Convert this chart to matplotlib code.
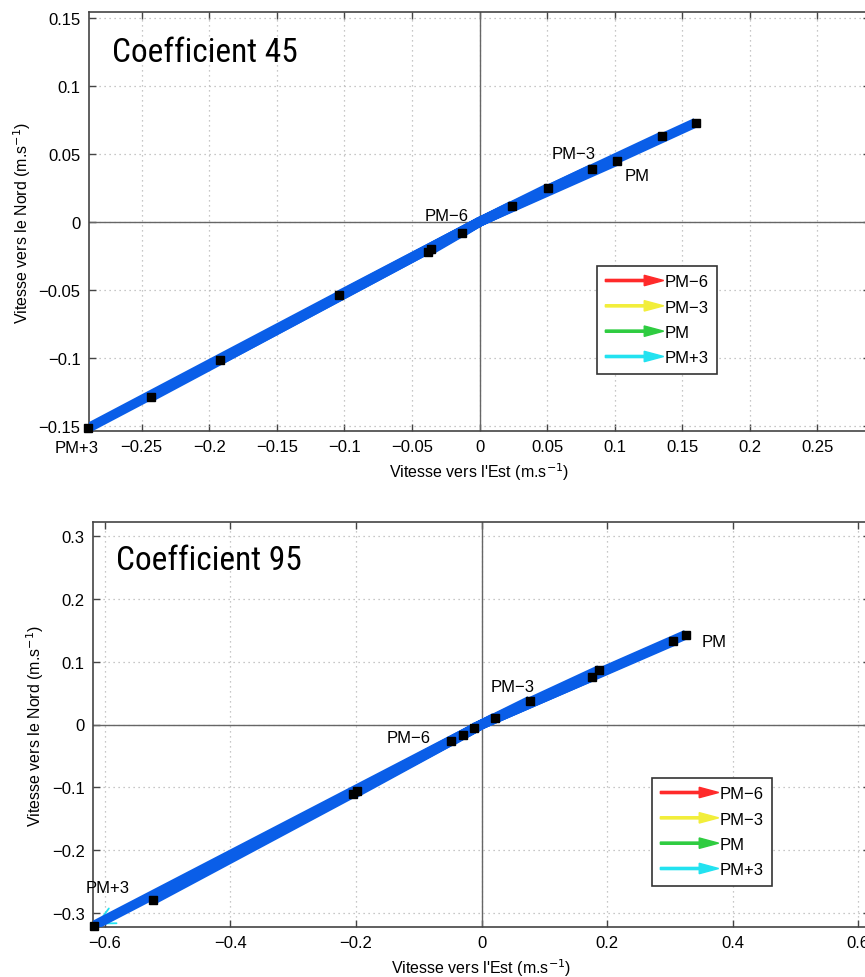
import matplotlib
matplotlib.use("Agg")
import matplotlib.pyplot as plt
import matplotlib.patches as mpatches
from matplotlib import font_manager
from matplotlib.legend_handler import HandlerPatch
import numpy as np

plt.rcParams['font.family'] = ['Liberation Sans', 'DejaVu Sans']

# ---------------- data ----------------
# Coefficient 45 : velocity (East, North) in m/s
u45 = [-0.290, -0.243, -0.192, -0.104, -0.038, -0.036, -0.013, 0.024, 0.051, 0.083, 0.102, 0.135, 0.160]
v45 = [-0.152, -0.129, -0.102, -0.054, -0.022, -0.020, -0.008, 0.012, 0.025, 0.039, 0.045, 0.063, 0.073]

# Coefficient 95
u95 = [-0.618, -0.523, -0.204, -0.199, -0.048, -0.030, -0.012, 0.021, 0.077, 0.176, 0.188, 0.305, 0.326]
v95 = [-0.320, -0.279, -0.111, -0.106, -0.027, -0.017, -0.005, 0.011, 0.038, 0.076, 0.087, 0.132, 0.143]

titles = ["Coefficient 45", "Coefficient 95"]
phase_labels = ["PM\u22126", "PM\u22123", "PM", "PM+3"]
phase_colors = ["#ff2a2a", "#f2ee3a", "#2ecc40", "#22e2f0"]

# annotation positions (data coordinates)
lab45_x = [-0.024, 0.070, 0.117, -0.298]
lab45_y = [0.0045, 0.050, 0.034, -0.166]
lab95_x = [-0.116, 0.050, 0.371, -0.596]
lab95_y = [-0.021, 0.060, 0.132, -0.259]

xticks45 = [-0.25, -0.2, -0.15, -0.1, -0.05, 0, 0.05, 0.1, 0.15, 0.2, 0.25]
yticks45 = [-0.15, -0.1, -0.05, 0, 0.05, 0.1, 0.15]
xticks95 = [-0.6, -0.4, -0.2, 0, 0.2, 0.4, 0.6]
yticks95 = [-0.3, -0.2, -0.1, 0, 0.1, 0.2, 0.3]

BLUE = "#0a5ee8"

# look for a condensed font for the panel titles
title_kw = dict(family=["Liberation Sans", "DejaVu Sans"], fontsize=22)
cands = [f for f in font_manager.fontManager.ttflist
         if ("Condensed" in f.name or "Narrow" in f.name
             or f.stretch in ("condensed", "semi-condensed", "extra-condensed"))
         and f.weight in (400, "normal", "regular")
         and f.style == "normal"]
if cands:
    def score(f):
        n = f.name + " " + str(f.fname)
        if "Liberation" in n:
            return 0
        if "Roboto" in n:
            return 1
        if "Open" in n:
            return 2
        return 3
    cands.sort(key=score)
    title_kw = dict(fname_prop=font_manager.FontProperties(fname=cands[0].fname, size=24))

fig = plt.figure(figsize=(8.65, 9.78), dpi=100)
ax1 = fig.add_axes([89/865, (978-432)/978, 781/865, 419/978])
ax2 = fig.add_axes([93/865, (978-928)/978, 777/865, 405/978])


def arrow_handle(legend, orig_handle, xdescent, ydescent, width, height, fontsize):
    return mpatches.FancyArrow(-xdescent, height/2 - ydescent, width, 0,
                               width=1.6, length_includes_head=True,
                               head_width=7.5, head_length=14)


def fmt(v):
    s = ("%g" % v)
    return s.replace("-", "\u2212")


def draw(ax, u, v, title, xticks, yticks, xlim, ylim, lx, ly, leg_anchor):
    ax.set_xlim(*xlim)
    ax.set_ylim(*ylim)
    ax.grid(True, color="#b5b5b5", linestyle=(0, (1, 3)), linewidth=0.9)
    ax.set_axisbelow(True)
    ax.axhline(0, color="#666666", lw=1.0, zorder=1)
    ax.axvline(0, color="#666666", lw=1.0, zorder=1)

    # PM+3 arrow (cyan), mostly hidden beneath the blue band
    ax.annotate("", xy=(u[0], v[0]), xytext=(0, 0),
                arrowprops=dict(arrowstyle="->,head_length=1.2,head_width=0.6",
                                color=phase_colors[3], lw=1.3), zorder=2)
    # velocity vectors from origin
    for x, y in zip(u, v):
        ax.plot([0, x], [0, y], color=BLUE, lw=7, solid_capstyle="butt", zorder=3)
    ax.plot(u, v, "s", color="black", ms=6, zorder=4, clip_on=False)

    for t, x, y in zip(phase_labels, lx, ly):
        ax.text(x, y, t, ha="center", va="center", fontsize=12, clip_on=False, zorder=5)

    if "fname_prop" in title_kw:
        ax.text(0.029, 0.905, title, transform=ax.transAxes,
                fontproperties=title_kw["fname_prop"], ha="left", va="center")
    else:
        ax.text(0.029, 0.905, title, transform=ax.transAxes,
                ha="left", va="center", **title_kw)

    ax.set_xticks(xticks)
    ax.set_yticks(yticks)
    ax.set_xticklabels([fmt(t) for t in xticks])
    ax.set_yticklabels([fmt(t) for t in yticks])
    ax.tick_params(direction="in", top=True, right=True, length=5, width=1,
                   color="#444444", labelsize=12, pad=6)
    for s in ax.spines.values():
        s.set_color("#444444")
        s.set_linewidth(1.2)
    ax.set_xlabel("Vitesse vers l'Est (m.s$^{-1}$)", fontsize=11.5, labelpad=4)
    ax.set_ylabel("Vitesse vers le Nord (m.s$^{-1}$)", fontsize=11.5, labelpad=4)

    handles = [mpatches.Patch(facecolor=c, edgecolor=c) for c in phase_colors]
    leg = ax.legend(handles, phase_labels, loc="upper left", bbox_to_anchor=leg_anchor,
                    handler_map={mpatches.Patch: HandlerPatch(patch_func=arrow_handle)},
                    fontsize=12, handlelength=3.5, handletextpad=0.05,
                    labelspacing=0.62, borderpad=0.5, borderaxespad=0,
                    fancybox=False, framealpha=1, edgecolor="#333333")
    leg.get_frame().set_linewidth(1.2)
    leg.set_zorder(10)


draw(ax1, u45, v45, titles[0], xticks45, yticks45, (-0.289, 0.289), (-0.154, 0.1545),
     lab45_x, lab45_y, ((597-89)/781, 1-(267-13)/419))
draw(ax2, u95, v95, titles[1], xticks95, yticks95, (-0.619, 0.619), (-0.322, 0.322),
     lab95_x, lab95_y, ((652-93)/777, 1-(779-523)/405))

fig.savefig("out.png", dpi=100)
